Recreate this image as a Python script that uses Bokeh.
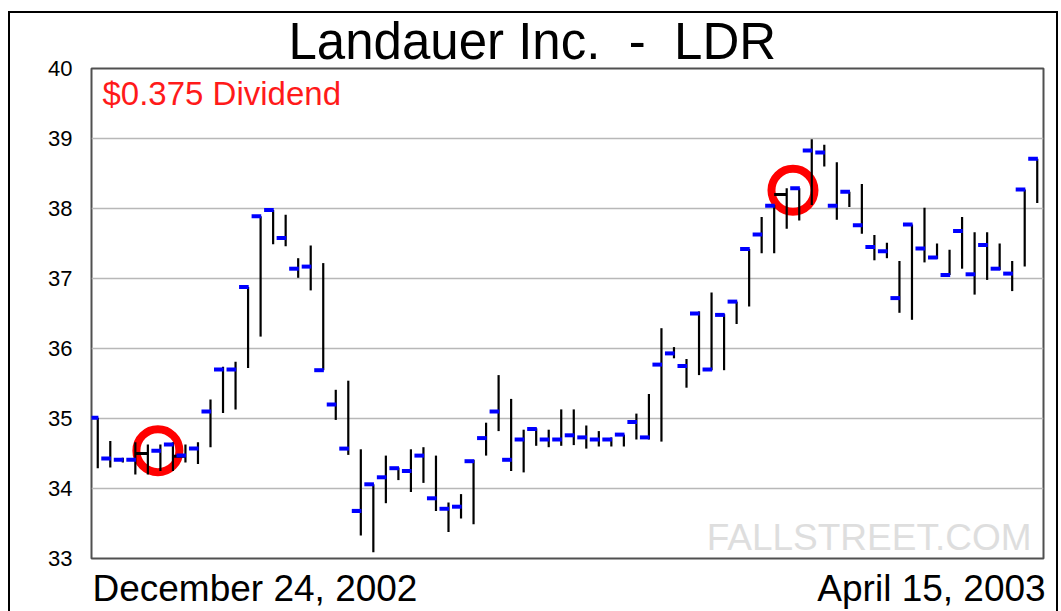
import numpy as np
from bokeh.plotting import figure
from bokeh.models import Label, FixedTicker, Range1d
from bokeh.embed import file_html
from bokeh.resources import INLINE

# ---- data ----
days = list(range(1, 77))
high = [35.01, 34.68, 34.44, 34.66, 34.63, 34.63, 34.66, 34.63, 34.66, 35.27,
        35.74, 35.81, 36.88, 37.89, 37.98, 37.91, 37.29, 37.47, 37.22, 35.41,
        35.54, 34.56, 34.06, 34.47, 34.30, 34.56, 34.59, 34.47, 33.80, 33.92,
        34.41, 34.94, 35.62, 35.28, 34.84, 34.86, 34.84, 35.13, 35.13, 34.90,
        34.82, 34.73, 34.77, 35.07, 35.35, 36.29, 36.02, 35.85, 36.53, 36.80,
        36.49, 36.67, 37.42, 37.88, 38.05, 38.29, 38.29, 38.99, 38.91, 38.66,
        38.24, 38.35, 37.62, 37.51, 37.25, 37.77, 38.01, 37.50, 37.41, 37.88,
        37.66, 37.66, 37.50, 37.25, 38.27, 38.71]
low = [34.29, 34.30, 34.37, 34.20, 34.20, 34.25, 34.25, 34.37, 34.35, 34.59,
       35.08, 35.13, 35.72, 36.17, 37.49, 37.46, 37.01, 36.83, 35.69, 34.98,
       34.48, 33.33, 33.09, 33.79, 34.12, 33.95, 34.08, 33.68, 33.38, 33.57,
       33.49, 34.47, 34.82, 34.25, 34.23, 34.61, 34.59, 34.61, 34.62, 34.57,
       34.60, 34.60, 34.60, 34.70, 34.70, 34.67, 35.86, 35.44, 35.62, 35.69,
       35.69, 36.35, 36.60, 37.36, 37.36, 37.71, 37.83, 38.05, 38.60, 37.84,
       38.02, 37.64, 37.26, 37.29, 36.51, 36.41, 37.23, 37.28, 37.05, 37.14,
       36.77, 36.98, 37.12, 36.82, 37.17, 38.08]
tick = [35.01, 34.43, 34.41, 34.41, None, 34.54, 34.63, 34.47, 34.57, 35.10,
        35.70, 35.70, 36.88, 37.89, 37.98, 37.58, 37.14, 37.17, 35.69, 35.20,
        34.57, 33.68, 34.06, 34.16, 34.29, 34.25, 34.47, 33.86, 33.71, 33.74,
        34.39, 34.72, 35.10, 34.41, 34.70, 34.85, 34.70, 34.70, 34.76, 34.73,
        34.70, 34.70, 34.77, 34.95, 34.73, 35.77, 35.93, 35.75, 36.50, 35.70,
        36.48, 36.67, 37.42, 37.63, 38.04, None, 38.29, 38.83, 38.80, 38.04,
        38.24, 37.76, 37.45, 37.39, 36.72, 37.77, 37.43, 37.30, 37.05, 37.68,
        37.06, 37.48, 37.14, 37.07, 38.27, 38.71]
# black link ticks around the dividend dates
link_day = [5, 8, 56]
link_price = [34.50, 34.46, 38.20]
# dividend markers
div_day = [5.8, 56.5]
div_price = [34.54, 38.26]
y_ticks = [33, 34, 35, 36, 37, 38, 39, 40]

# non-breaking spaces keep the wide gaps around the dash
title_text = "Landauer Inc. \u00a0-\u00a0 LDR"
note_text = "$0.375 Dividend"
start_label = "December 24, 2002"
end_label = "April 15, 2003"
watermark = "FALLSTREET.COM"

FONT = "Liberation Sans"

p = figure(width=1061, height=611, output_backend="svg", toolbar_location=None,
           x_range=Range1d(0.5, 76.5), y_range=Range1d(33, 40),
           min_border_left=91, min_border_right=18, min_border_top=68,
           min_border_bottom=51)
p.background_fill_color = "white"
p.border_fill_color = None
# outer picture border (left, top, right) drawn as the page background
p.styles = {
    "background": (
        "linear-gradient(#000,#000) 8px 11px / 2px 700px no-repeat, "
        "linear-gradient(#000,#000) 8px 11px / 1050px 2px no-repeat, "
        "linear-gradient(#000,#000) 1056px 11px / 2px 700px no-repeat, #fff"
    )
}
p.outline_line_color = "#505050"
p.outline_line_width = 2

# title
p.title.text = title_text
p.title.align = "left"
p.title.offset = 197
p.title.standoff = -2
p.title.text_font = FONT
p.title.text_font_size = "51px"
p.title.text_font_style = "normal"
p.title.text_color = "black"
p.title.text_line_height = 1.0

# x axis: only the first and last dates, as labels
p.xaxis.ticker = FixedTicker(ticks=[13.55, 67.56])
p.xaxis.major_label_overrides = {13.55: start_label, 67.56: end_label}
p.xaxis.major_tick_line_color = None
p.xaxis.minor_tick_line_color = None
p.xaxis.axis_line_color = None
p.xaxis.major_label_standoff = 3
p.xaxis.major_label_text_font = FONT
p.xaxis.major_label_text_font_size = "37px"
p.xaxis.major_label_text_color = "black"
p.xgrid.visible = False

p.yaxis.ticker = FixedTicker(ticks=y_ticks)
p.yaxis.minor_tick_line_color = None
p.yaxis.major_tick_line_color = None
p.yaxis.axis_line_color = None
p.yaxis.major_label_standoff = 13
p.yaxis.major_label_text_font = FONT
p.yaxis.major_label_text_font_size = "22px"
p.yaxis.major_label_text_color = "black"
p.ygrid.ticker = FixedTicker(ticks=y_ticks)
p.ygrid.grid_line_color = "#b8b8b8"
p.ygrid.grid_line_width = 1.5

# dividend circles (under the bars)
p.scatter(x=div_day, y=div_price, marker="circle", size=43, fill_color=None,
          line_color="#ff0000", line_width=8)

# high-low bars
p.segment(x0=days, y0=low, x1=days, y1=high, line_color="black", line_width=2.2)

# black link ticks
ld = np.array(link_day, dtype=float)
p.segment(x0=ld - 1.0, y0=link_price, x1=ld, y1=link_price,
          line_color="black", line_width=3)

# blue ticks on the left
td = np.array([d for d, t in zip(days, tick) if t is not None], dtype=float)
tv = [t for t in tick if t is not None]
p.segment(x0=td - 0.72, y0=tv, x1=td + 0.05, y1=tv, line_color="#0000ff",
          line_width=4)

# texts inside the frame (canvas pixel units)
p.add_layout(Label(x=102, y=93, x_units="canvas", y_units="canvas",
                   text=note_text, text_align="left", text_baseline="alphabetic",
                   text_font=FONT, text_font_size="33px", text_color="#ff1a1a"))
p.add_layout(Label(x=1031, y=537, x_units="canvas", y_units="canvas",
                   text=watermark, text_align="right", text_baseline="alphabetic",
                   text_font=FONT, text_font_size="37px", text_color="#dedede"))

open("out.html", "w").write(file_html(p, INLINE))
